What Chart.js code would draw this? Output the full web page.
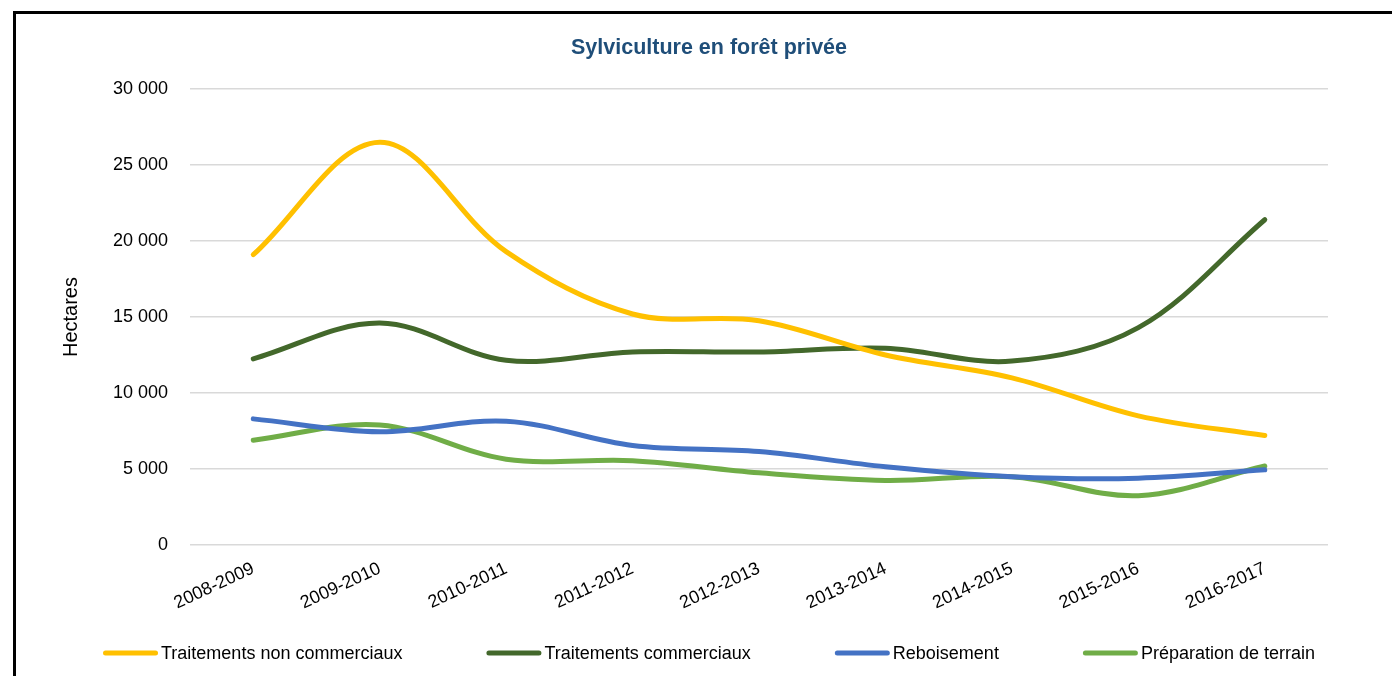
<!DOCTYPE html>
<html lang="fr">
<head>
<meta charset="utf-8">
<title>Sylviculture en forêt privée</title>
<script src="https://cdn.jsdelivr.net/npm/chart.js@4"></script>
<style>
  body { margin: 0; background: #fff; }
  #frame {
    position: absolute; left: 13px; top: 11px;
    width: 1400px; height: 700px;
    border: 3px solid #000; box-sizing: border-box;
  }
  #wrap { position: absolute; left: 0; top: 0; width: 1376px; height: 662px; }
</style>
</head>
<body>
<div id="frame">
  <div id="wrap"><canvas id="chart"></canvas></div>
</div>
<script>
// saisons
var labels = ['2008-2009', '2009-2010', '2010-2011', '2011-2012', '2012-2013', '2013-2014', '2014-2015', '2015-2016', '2016-2017'];

// hectares traités par année
var nonCommerciaux = [19100, 26500, 19300, 15200, 14750, 12500, 11000, 8500, 7200];
var commerciaux = [12250, 14600, 12150, 12700, 12700, 12950, 12100, 14300, 21400];
var reboisement = [8300, 7450, 8150, 6550, 6150, 5150, 4500, 4400, 4950];
var preparation = [6900, 7900, 5650, 5550, 4750, 4250, 4500, 3250, 5200];

var yTicks = [0, 5000, 10000, 15000, 20000, 25000, 30000];

var titre = 'Sylviculture en forêt privée';
var police = '"Liberation Sans", Arial, sans-serif';
Chart.defaults.font.family = police;
Chart.defaults.color = '#000';

function serie(label, data, color) {
    return {
        label: label,
        data: data,
        borderColor: color,
        backgroundColor: color,
        borderWidth: 5,
        borderCapStyle: 'round',
        pointRadius: 0,
        pointHoverRadius: 0,
        tension: 0.35,
        fill: false
    };
}

// titre + légende sur une seule ligne, trait et libellé collés comme dans Excel
var habillage = {
    id: 'habillage',
    afterDraw: function (chart) {
        var c = chart.ctx;
        c.save();

        c.font = 'bold 21.5px ' + police;
        c.fillStyle = '#1F4E79';
        c.textAlign = 'center';
        c.textBaseline = 'middle';
        c.fillText(titre, 693, 34);

        var sets = chart.data.datasets;
        var trait = 55, espace = 3, ecart = 84;
        c.font = '18px ' + police;
        var largeurs = sets.map(function (d) {
            return trait + espace + c.measureText(d.label).width;
        });
        var total = largeurs.reduce(function (a, b) { return a + b; }, 0) + ecart * (sets.length - 1);
        var x = 693 - total / 2;
        var y = chart.height - 23;
        c.textAlign = 'left';
        sets.forEach(function (d, i) {
            c.strokeStyle = d.borderColor;
            c.lineWidth = 5;
            c.lineCap = 'round';
            c.beginPath();
            c.moveTo(x + 2.5, y);
            c.lineTo(x + trait - 2.5, y);
            c.stroke();
            c.fillStyle = '#000';
            c.fillText(d.label, x + trait + espace, y + 1);
            x += largeurs[i] + ecart;
        });
        c.restore();
    }
};

var ctx = document.getElementById('chart');

var lineChart = new Chart(ctx, {
    type: 'line',
    data: {
        labels: labels,
        datasets: [
            serie('Traitements non commerciaux', nonCommerciaux, '#FFC000'),
            serie('Traitements commerciaux', commerciaux, '#43682B'),
            serie('Reboisement', reboisement, '#4472C4'),
            serie('Préparation de terrain', preparation, '#70AD47')
        ]
    },
    plugins: [habillage],
    options: {
        responsive: true,
        maintainAspectRatio: false,
        animation: false,
        layout: { padding: { left: 39, right: 64, top: 75, bottom: 57 } },
        plugins: {
            title: { display: false },
            legend: { display: false },
            tooltip: { enabled: false }
        },
        scales: {
            x: {
                offset: true,
                grid: { display: false },
                border: { display: false },
                ticks: {
                    minRotation: 25,
                    maxRotation: 25,
                    color: '#000',
                    font: { size: 18 },
                    padding: 5
                }
            },
            y: {
                min: 0,
                max: 30000,
                afterBuildTicks: function (axis) {
                    axis.ticks = yTicks.map(function (v) { return { value: v }; });
                },
                grid: { color: '#d9d9d9', lineWidth: 1.5, drawTicks: false },
                border: { display: false },
                title: {
                    display: true,
                    text: 'Hectares',
                    color: '#000',
                    font: { size: 20 },
                    padding: { bottom: 8 }
                },
                ticks: {
                    color: '#000',
                    font: { size: 18 },
                    padding: 22,
                    callback: function (v) {
                        return String(v).replace(/\B(?=(\d{3})+(?!\d))/g, ' ');
                    }
                }
            }
        }
    }
});
</script>
</body>
</html>
